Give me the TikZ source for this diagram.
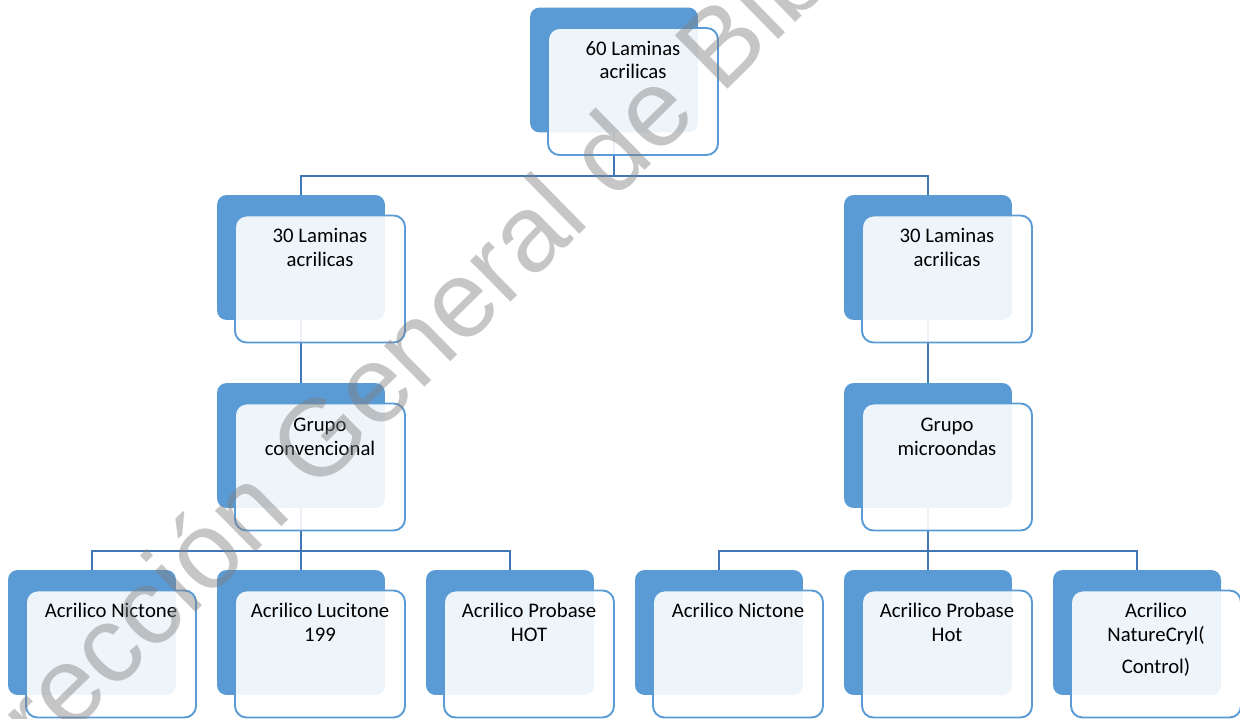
\documentclass[tikz,border=0pt]{standalone}
\usepackage{fontspec}
\setmainfont{Carlito}
\newfontfamily\wmfont{Liberation Sans}
\usetikzlibrary{positioning,calc}
\definecolor{boxblue}{RGB}{91,155,213}
\definecolor{linkblue}{RGB}{65,119,183}
\definecolor{markgray}{RGB}{128,128,128}

\begin{document}
\begin{tikzpicture}[x=0.02cm, y=-0.02cm,
        back/.style={rectangle, rounded corners=5.5pt, fill=boxblue, minimum width=3.36cm, minimum height=2.5cm, inner sep=0pt},
        front/.style={rectangle, rounded corners=6.5pt, draw=boxblue, line width=1.1pt, fill=white, fill opacity=0.9, minimum width=3.40cm, minimum height=2.54cm, inner sep=0pt},
        txt/.style={anchor=north, align=center, inner sep=0pt, font=\fontsize{11.8}{13.3}\selectfont},
        conn/.style={draw=linkblue, line width=1.1pt},
        wmark/.style={text=markgray, text opacity=0.45, font=\wmfont\fontsize{62}{64}\selectfont, inner sep=0pt}
    ]
    \useasboundingbox (0,0) rectangle (1240,719);

    % Back blocks
    \node[back] (b0) at (614,70) {};
    \node[back] (b1) at (301,257.5) {};
    \node[back] (b2) at (928,257.5) {};
    \node[back] (b3) at (301,445.5) {};
    \node[back] (b4) at (928,445.5) {};
    \node[back] (b5) at (92,632.5) {};
    \node[back] (b6) at (301,632.5) {};
    \node[back] (b7) at (510,632.5) {};
    \node[back] (b8) at (719,632.5) {};
    \node[back] (b9) at (928,632.5) {};
    \node[back] (b10) at (1137,632.5) {};

    % Connectors
    \draw[conn] (b0.south) -- ++(0,43) -| (b1.north);
    \draw[conn] (b0.south) -- ++(0,43) -| (b2.north);
    \draw[conn] (b1.south) -- (b3.north);
    \draw[conn] (b2.south) -- (b4.north);
    \draw[conn] (b3.south) -- ++(0,42.5) -| (b5.north);
    \draw[conn] (b3.south) -- (b6.north);
    \draw[conn] (b3.south) -- ++(0,42.5) -| (b7.north);
    \draw[conn] (b4.south) -- ++(0,42.5) -| (b8.north);
    \draw[conn] (b4.south) -- (b9.north);
    \draw[conn] (b4.south) -- ++(0,42.5) -| (b10.north);

    % Front blocks
    \node[front] (f0) at ($(b0)+(19,21.5)$) {};
    \node[front] (f1) at ($(b1)+(19,21.5)$) {};
    \node[front] (f2) at ($(b2)+(19,21.5)$) {};
    \node[front] (f3) at ($(b3)+(19,21.5)$) {};
    \node[front] (f4) at ($(b4)+(19,21.5)$) {};
    \node[front] (f5) at ($(b5)+(19,21.5)$) {};
    \node[front] (f6) at ($(b6)+(19,21.5)$) {};
    \node[front] (f7) at ($(b7)+(19,21.5)$) {};
    \node[front] (f8) at ($(b8)+(19,21.5)$) {};
    \node[front] (f9) at ($(b9)+(19,21.5)$) {};
    \node[front] (f10) at ($(b10)+(19,21.5)$) {};

    % Labels
    \node[txt] (t0) at ($(f0.north)+(0,11.5)$) {\strut 60 Laminas\\acrilicas};
    \node[txt] (t1) at ($(f1.north)+(0,11.5)$) {\strut 30 Laminas\\acrilicas};
    \node[txt] (t2) at ($(f2.north)+(0,11.5)$) {\strut 30 Laminas\\acrilicas};
    \node[txt] (t3) at ($(f3.north)+(0,12.5)$) {\strut Grupo\\convencional};
    \node[txt] (t4) at ($(f4.north)+(0,12.5)$) {\strut Grupo\\microondas};
    \node[txt] (t5) at ($(f5.north)+(0,11.5)$) {\strut Acrilico Nictone};
    \node[txt] (t6) at ($(f6.north)+(0,11.5)$) {\strut Acrilico Lucitone\\199};
    \node[txt] (t7) at ($(f7.north)+(0,11.5)$) {\strut Acrilico Probase\\HOT};
    \node[txt] (t8) at ($(f8.north)+(0,11.5)$) {\strut Acrilico Nictone};
    \node[txt] (t9) at ($(f9.north)+(0,11.5)$) {\strut Acrilico Probase\\Hot};
    \node[txt] (t10) at ($(f10.north)+(0,11.5)$) {\strut Acrilico\\NatureCryl(\\[5pt]Control)};

    % Watermark
    \begin{scope}
        \clip (0,0) rectangle (1240,719);
        \node[wmark, rotate=44.5, anchor=base] (wm) at (534,279.5) {Dirección General de Bibliotecas};
    \end{scope}
\end{tikzpicture}
\end{document}
